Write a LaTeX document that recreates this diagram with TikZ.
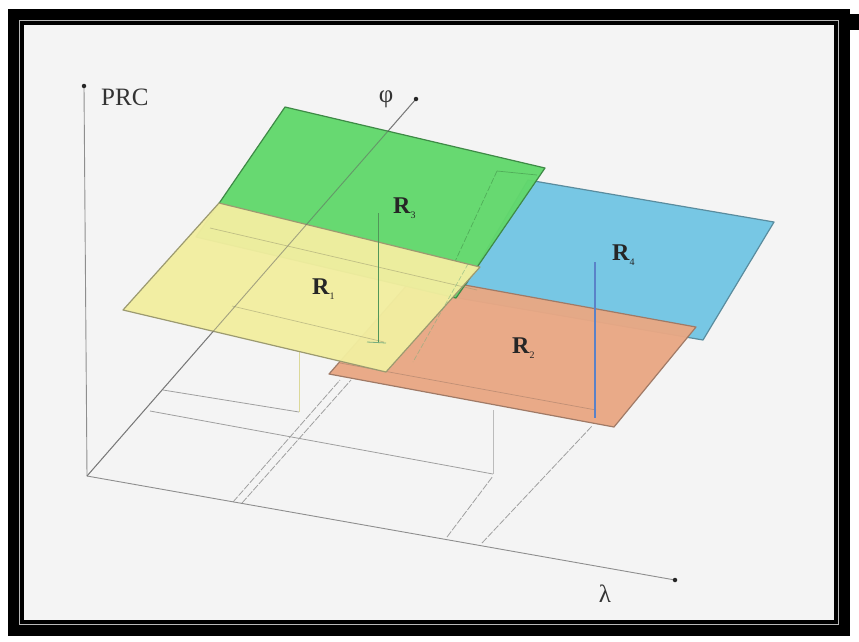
\documentclass[tikz,border=0pt]{standalone}
\usepackage{fontspec}
\setmainfont{Liberation Serif}
\begin{document}
\begin{tikzpicture}[x=1pt,y=-1pt]
\definecolor{bgc}{HTML}{F4F4F4}
\definecolor{yelF}{HTML}{F2EEA0}
\definecolor{yelE}{HTML}{9C9A70}
\definecolor{grnF}{HTML}{62D86C}
\definecolor{grnE}{HTML}{3E8A46}
\definecolor{bluF}{HTML}{72C6E4}
\definecolor{bluE}{HTML}{5A8C9E}
\definecolor{orgF}{HTML}{E9A884}
\definecolor{orgE}{HTML}{A07A66}
\definecolor{lineG}{HTML}{8E8E8E}
\definecolor{vblue}{HTML}{5A82C8}
\tikzset{
  axisline/.style={draw=lineG, line width=0.9pt},
  floorline/.style={draw=lineG!85, line width=0.8pt},
  floordash/.style={draw=lineG!85, line width=0.8pt, dash pattern=on 7pt off 1.5pt},
  plane/.style={line width=1.2pt, line join=round, fill opacity=0.96},
  innerline/.style={line width=0.7pt, draw opacity=0.55},
  axdot/.style={circle, fill=black!85, inner sep=0pt, minimum size=4.5pt},
  lab/.style={font=\fontsize{25}{28}\selectfont, text=black!80, inner sep=0pt},
  rlab/.style={font=\fontsize{24}{26}\selectfont\bfseries, text=black!85, inner sep=0pt},
}
\newcommand{\subdig}[1]{\raisebox{-5pt}{\fontsize{10}{10}\selectfont\mdseries #1}}
\useasboundingbox (0,0) rectangle (859,641);
% frame
\fill[white] (0,0) rectangle (859,641);
\fill[black] (8,9) rectangle (850,636);
\fill[black] (790,14) rectangle (859,30);
\draw[gray!55, line width=1.2pt] (19.5,20.5) rectangle (838.5,624.5);
\fill[bgc] (24,25) rectangle (834,620);

% axis points
\coordinate (O) at (87,476);
\coordinate (Ptop) at (84,86);
\coordinate (Phi) at (416,99);
\coordinate (Lam) at (675,580);

% floor projection lines
\coordinate (f1a) at (163,390); \coordinate (f1b) at (299,412);
\coordinate (f2a) at (150,411); \coordinate (f2b) at (493,474);
\coordinate (v1a) at (299,352);
\coordinate (v2a) at (493,410);
\coordinate (d1a) at (233,502); \coordinate (d1b) at (340,380);
\coordinate (d1c) at (242,503); \coordinate (d1d) at (351,380);
\coordinate (d2a) at (447,537); \coordinate (d2b) at (493,476);
\coordinate (d2c) at (482,543); \coordinate (d2d) at (592,426);

\draw[floorline] (f1a) -- (f1b);
\draw[floorline] (f2a) -- (f2b);
\draw[draw=yelF!80!gray, line width=0.9pt] (v1a) -- (f1b);
\draw[floorline, draw=lineG!60] (v2a) -- (f2b);
\draw[floordash] (d1a) -- (d1b);
\draw[floordash] (d1c) -- (d1d);
\draw[floordash] (d2a) -- (d2b);
\draw[floordash] (d2c) -- (d2d);

% axes
\draw[axisline] (Ptop) -- (O);
\draw[axisline] (O) -- (Lam);
\draw[axisline] (O) -- (Phi);

% planes
\coordinate (oTL) at (415,276); \coordinate (oTR) at (696,327);
\coordinate (oBR) at (614,427); \coordinate (oBL) at (329,374);
\coordinate (bTL) at (528,180); \coordinate (bTR) at (774,222);
\coordinate (bBR) at (703,340); \coordinate (bBL) at (458,298);
\coordinate (gTL) at (285,107); \coordinate (gTR) at (545,168);
\coordinate (gBR) at (456,298); \coordinate (gBL) at (196,237);
\coordinate (yTL) at (219,203); \coordinate (yTR) at (480,267);
\coordinate (yBR) at (386,372); \coordinate (yBL) at (123,310);

\filldraw[plane, fill=bluF, draw=bluE] (bTL) -- (bTR) -- (bBR) -- (bBL) -- cycle;
\filldraw[plane, fill=orgF, draw=orgE] (oTL) -- (oTR) -- (oBR) -- (oBL) -- cycle;
\draw[innerline, draw=orgE] (340,363) -- (596,410);
\filldraw[plane, fill=grnF, draw=grnE] (gTL) -- (gTR) -- (gBR) -- (gBL) -- cycle;
\draw[innerline, draw=grnE, dash pattern=on 6pt off 2pt] (497,171) -- (452,268);
\draw[innerline, draw=grnE] (497,171) -- (537,175);
\filldraw[plane, fill=yelF, draw=yelE] (yTL) -- (yTR) -- (yBR) -- (yBL) -- cycle;
\draw[innerline, draw=yelE] (210,228) -- (477,290);
\draw[innerline, draw=yelE] (232,306) -- (384,342);
\draw[innerline, draw=grnE!70, dash pattern=on 5pt off 2pt] (468,264) -- (413,362);

% phi axis seen through the planes
\draw[axisline, draw=black!60, draw opacity=0.55] (O) -- (Phi);

% vertical markers
\draw[draw=grnE!90, line width=1pt] (378,213) -- (378,342);
\draw[draw=grnE!70, line width=0.8pt] (367,342) -- (386,343);
\draw[draw=vblue, line width=1.6pt] (595,262) -- (595,418);

% dots
\node[axdot] (dotP) at (Ptop) {};
\node[axdot] (dotF) at (Phi) {};
\node[axdot] (dotL) at (Lam) {};

% labels
\node[lab, anchor=base west] (prc) at (101,105) {PRC};
\node[lab] (phi) at (386,99) {φ};
\node[lab] (lam) at (605,594) {λ};
\node[rlab, anchor=base west] (r3) at (393,213) {R\subdig{3}};
\node[rlab, anchor=base west] (r1) at (312,294) {R\subdig{1}};
\node[rlab, anchor=base west] (r4) at (612,260) {R\subdig{4}};
\node[rlab, anchor=base west] (r2) at (512,353) {R\subdig{2}};
\end{tikzpicture}
\end{document}
